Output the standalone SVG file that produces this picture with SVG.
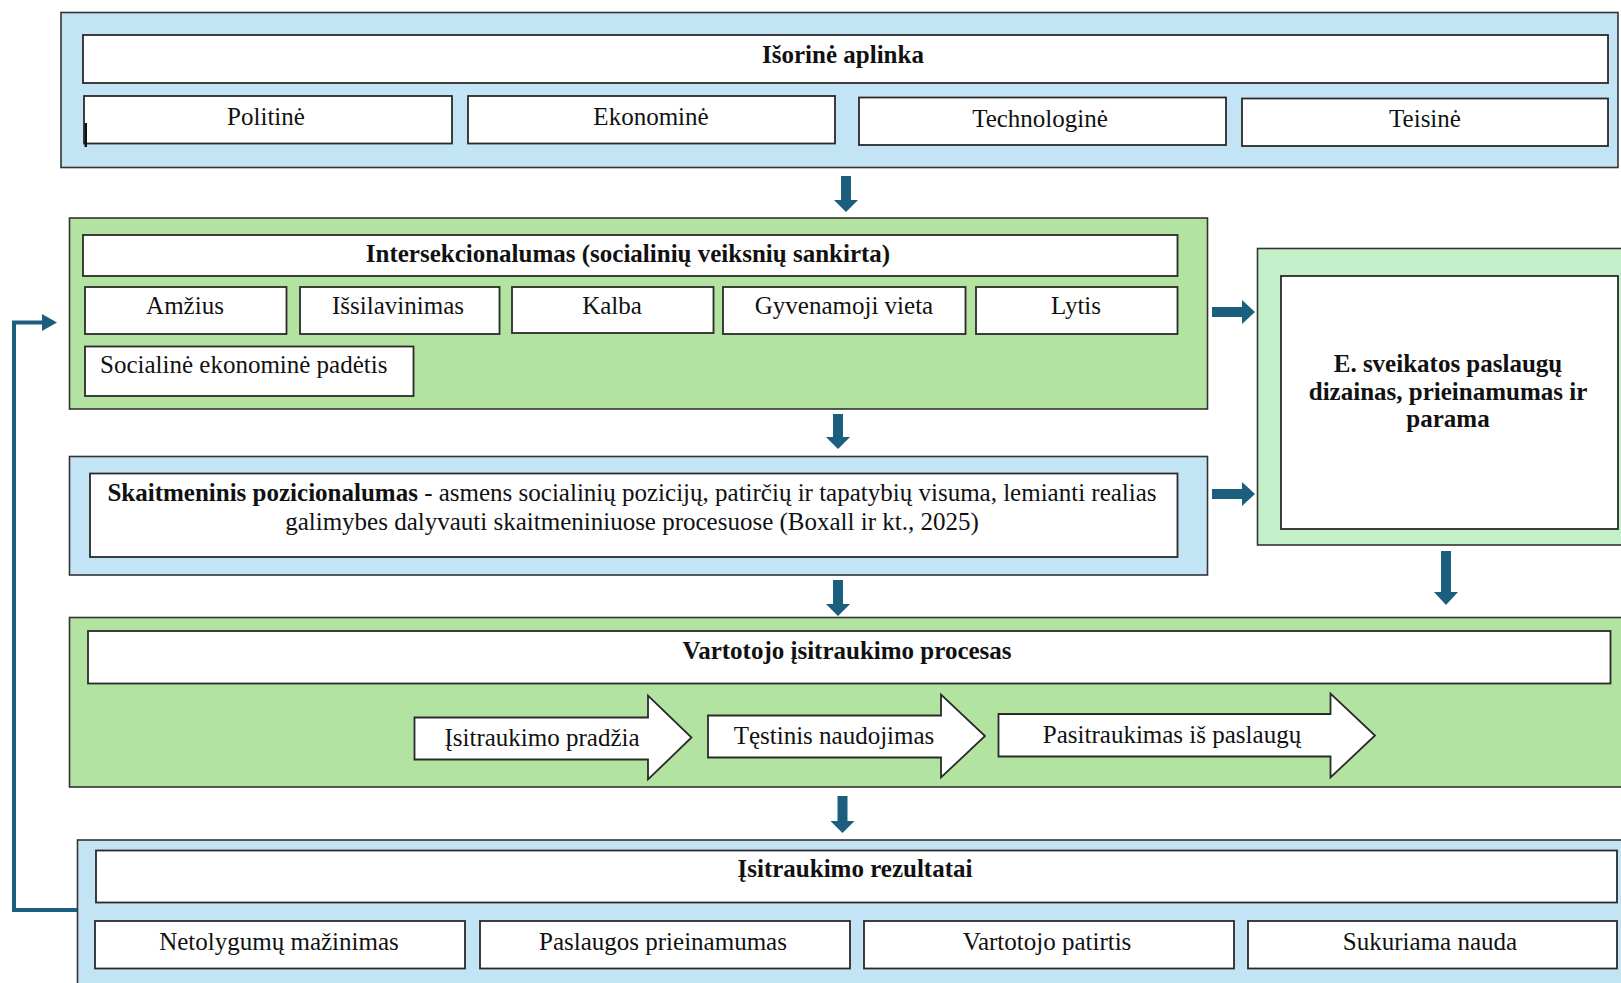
<svg xmlns="http://www.w3.org/2000/svg" width="1621" height="983" viewBox="0 0 1621 983">
<defs>
<style>
.bl{fill:#C2E4F4;stroke:#333;stroke-width:1.6}
.gr{fill:#B3E3A1;stroke:#333;stroke-width:1.6}
.lg{fill:#C4F0C9;stroke:#333;stroke-width:1.6}
.wb{fill:#fff;stroke:#2a2a2a;stroke-width:1.8}
.t{font-family:"Liberation Serif","Times New Roman",serif;font-size:25px;fill:#111;text-anchor:middle}
.b{font-weight:bold}
.ar{fill:#1B5E7E}
</style>
</defs>
<rect width="1621" height="983" fill="#fff"/>
<g id="external">
<rect class="bl" x="61" y="12.5" width="1557" height="155"/>
<rect class="wb" x="83" y="35" width="1525" height="48"/>
<text class="t b" x="843" y="63">Išorinė aplinka</text>
<rect class="wb" x="84" y="96" width="368" height="47.5"/>
<text class="t" x="266" y="125">Politinė</text>
<rect x="84.5" y="123" width="2.5" height="24" fill="#111"/>
<rect class="wb" x="468" y="96" width="367" height="47.5"/>
<text class="t" x="651" y="125">Ekonominė</text>
<rect class="wb" x="859" y="97.5" width="367" height="47.5"/>
<text class="t" x="1040" y="127">Technologinė</text>
<rect class="wb" x="1242" y="98.5" width="366" height="47.5"/>
<text class="t" x="1425" y="127">Teisinė</text>
</g>

<g id="intersectionality">
<rect class="gr" x="69.5" y="218" width="1138" height="191"/>
<rect class="wb" x="83" y="235" width="1094.5" height="41"/>
<text class="t b" x="628" y="262">Intersekcionalumas (socialinių veiksnių sankirta)</text>
<rect class="wb" x="85" y="287" width="201.5" height="47"/>
<text class="t" x="185" y="314">Amžius</text>
<rect class="wb" x="300" y="287" width="199.5" height="47"/>
<text class="t" x="398" y="314">Išsilavinimas</text>
<rect class="wb" x="512" y="287" width="201.5" height="46"/>
<text class="t" x="612" y="314">Kalba</text>
<rect class="wb" x="723" y="287" width="242.5" height="47"/>
<text class="t" x="844" y="314">Gyvenamoji vieta</text>
<rect class="wb" x="976" y="287" width="201.5" height="47"/>
<text class="t" x="1076" y="314">Lytis</text>
<rect class="wb" x="85" y="346.5" width="328.5" height="49.5"/>
<text class="t" x="100" y="373" style="text-anchor:start">Socialinė ekonominė padėtis</text>
</g>

<g id="ehealth">
<rect class="lg" x="1257.5" y="248.5" width="1640" height="296.5"/>
<rect class="wb" x="1281" y="276" width="337" height="253"/>
<text class="t b" x="1448" y="372">E. sveikatos paslaugų</text>
<text class="t b" x="1448" y="400">dizainas, prieinamumas ir</text>
<text class="t b" x="1448" y="427">parama</text>
</g>

<g id="positionality">
<rect class="bl" x="69.5" y="456.5" width="1138" height="118.5"/>
<rect class="wb" x="90" y="473.5" width="1087.5" height="83.5"/>
<text class="t" x="632" y="501"><tspan class="b">Skaitmeninis pozicionalumas</tspan> - asmens socialinių pozicijų, patirčių ir tapatybių visuma, lemianti realias</text>
<text class="t" x="632" y="530">galimybes dalyvauti skaitmeniniuose procesuose (Boxall ir kt., 2025)</text>
</g>

<g id="process">
<rect class="gr" x="69.5" y="617.5" width="1600" height="169.5"/>
<rect class="wb" x="88" y="631" width="1522.5" height="52.5"/>
<text class="t b" x="847" y="659">Vartotojo įsitraukimo procesas</text>
<g id="step1">
<path class="wb" d="M414.5,717.5 H648 V695.5 L691.5,737.5 L648,779.5 V759.5 H414.5 Z"/>
<text class="t" x="542" y="746">Įsitraukimo pradžia</text>
</g>
<g id="step2">
<path class="wb" d="M708,715.5 H941 V694.5 L985,736 L941,777.5 V757.5 H708 Z"/>
<text class="t" x="834" y="744">Tęstinis naudojimas</text>
</g>
<g id="step3">
<path class="wb" d="M998.5,714 H1330.5 V693.5 L1375,735.5 L1330.5,777.5 V756.5 H998.5 Z"/>
<text class="t" x="1172" y="743">Pasitraukimas iš paslaugų</text>
</g>
</g>

<g id="results">
<rect class="bl" x="77.5" y="840" width="1600" height="160"/>
<rect class="wb" x="96" y="850.5" width="1521" height="52"/>
<text class="t b" x="855" y="877">Įsitraukimo rezultatai</text>
<rect class="wb" x="95" y="921" width="370" height="47.5"/>
<text class="t" x="279" y="950">Netolygumų mažinimas</text>
<rect class="wb" x="480" y="921" width="370" height="47.5"/>
<text class="t" x="663" y="950">Paslaugos prieinamumas</text>
<rect class="wb" x="864" y="921" width="370" height="47.5"/>
<text class="t" x="1047" y="950">Vartotojo patirtis</text>
<rect class="wb" x="1248" y="921" width="369" height="47.5"/>
<text class="t" x="1430" y="950">Sukuriama nauda</text>
</g>

<g id="connectors">
<path class="ar" d="M841,176 H851 V200 H858 L846,212 L834,200 H841 Z"/>
<path class="ar" d="M833,414 H843 V437 H850 L838,449 L826,437 H833 Z"/>
<path class="ar" d="M833,580 H843 V604 H850 L838,616 L826,604 H833 Z"/>
<path class="ar" d="M837.5,796 H847.5 V821 H854.5 L842.5,833 L830.5,821 H837.5 Z"/>
<path class="ar" d="M1441,551 H1451 V592 H1458 L1446,605 L1434,592 H1441 Z"/>
<path class="ar" d="M1212,307 H1242 V300 L1255,312 L1242,324 V317 H1212 Z"/>
<path class="ar" d="M1212,489 H1242 V482 L1255,494 L1242,506 V499 H1212 Z"/>
<polyline points="77,910 14,910 14,322.5 44,322.5" fill="none" stroke="#1B5E7E" stroke-width="4"/>
<path class="ar" d="M42,314 L57,322.5 L42,331 Z"/>
</g>
</svg>
